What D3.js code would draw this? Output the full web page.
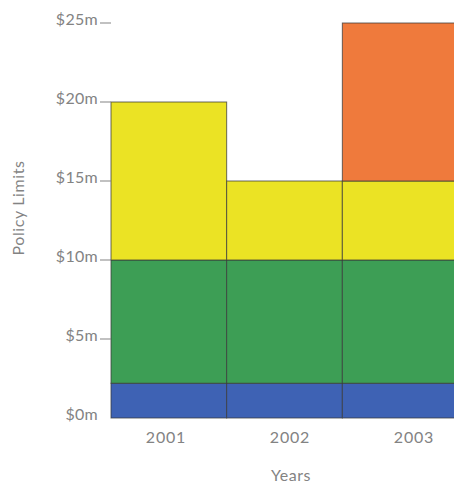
<!DOCTYPE html>
<html>
<head>
<meta charset="utf-8">
<script src="https://cdn.jsdelivr.net/npm/d3@7"></script>
<style>
  body { margin: 0; background: #fff; }
  text { font-family: Lato, "Open Sans", sans-serif; fill: #838383; }
</style>
</head>
<body>
<svg class="chart"></svg>
<script>
var width = 454, height = 485;

// Data: layers of the tower per year ($m)
var years = ["2001", "2002", "2003"];
var layerColors = ["#3e62b4", "#3d9e55", "#ebe324", "#ef7a3c"];
// [bottom, top] of each layer per year, null where absent
var primary = [[0, 2.2], [0, 2.2], [0, 2.2]];
var excess1 = [[2.2, 10], [2.2, 10], [2.2, 10]];
var excess2 = [[10, 20], [10, 15], [10, 15]];
var excess3 = [null, null, [15, 25]];
var yTicks = [0, 5, 10, 15, 20, 25];

var layers = [primary, excess1, excess2, excess3];

var svg = d3.select(".chart")
  .attr("width", width)
  .attr("height", height);

var x = d3.scaleBand()
  .domain(years)
  .range([111, 458])
  .padding(0);

// label positions are spread a bit wider than the bars
var xLabel = d3.scalePoint()
  .domain(years)
  .range([166, 414]);

var y = d3.scaleLinear()
  .domain([0, 25])
  .range([418, 23]);

// Bars
layers.forEach(function (layer, i) {
  svg.selectAll(".l" + i)
    .data(layer.map(function (d, j) { return { year: years[j], v: d }; }).filter(function (d) { return d.v; }))
    .enter()
    .append("rect")
    .attr("class", "l" + i)
    .attr("x", function (d) { return x(d.year); })
    .attr("width", x.bandwidth())
    .attr("y", function (d) { return y(d.v[1]); })
    .attr("height", function (d) { return y(d.v[0]) - y(d.v[1]); })
    .attr("fill", layerColors[i])
    .attr("stroke", "#3a3a3a")
    .attr("stroke-opacity", 0.75)
    .attr("stroke-width", 1);
});

// Y ticks and labels
var yAxis = svg.append("g");
yAxis.selectAll("line")
  .data(yTicks.filter(function (d) { return d > 0; }))
  .enter()
  .append("line")
  .attr("x1", 100)
  .attr("x2", 111)
  .attr("y1", function (d) { return y(d); })
  .attr("y2", function (d) { return y(d); })
  .attr("stroke", "#838383")
  .attr("stroke-width", 1);

yAxis.selectAll("text")
  .data(yTicks)
  .enter()
  .append("text")
  .attr("x", 98)
  .attr("y", function (d) { return y(d) + 2; })
  .attr("text-anchor", "end")
  .style("font-size", "16px")
  .style("letter-spacing", "0.3px")
  .text(function (d) { return "$" + d + "m"; });

// X labels
svg.selectAll(".xl")
  .data(years)
  .enter()
  .append("text")
  .attr("class", "xl")
  .attr("x", function (d) { return xLabel(d); })
  .attr("y", 443)
  .attr("text-anchor", "middle")
  .style("font-size", "16px")
  .style("letter-spacing", "0.8px")
  .text(function (d) { return d; });

// Axis titles
svg.append("text")
  .attr("x", 291)
  .attr("y", 481)
  .attr("text-anchor", "middle")
  .style("font-size", "16px")
  .style("letter-spacing", "0.5px")
  .text("Years");

svg.append("text")
  .attr("transform", "translate(24,208) rotate(-90)")
  .attr("text-anchor", "middle")
  .style("font-size", "16px")
  .style("letter-spacing", "0.6px")
  .text("Policy Limits");
</script>
</body>
</html>
